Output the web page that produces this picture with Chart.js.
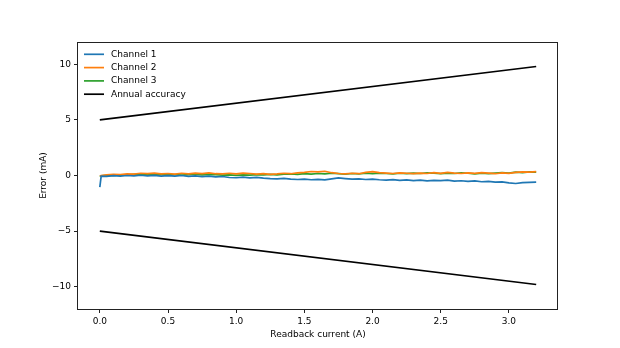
<!DOCTYPE html>
<html>
<head>
<meta charset="utf-8">
<script src="https://cdn.jsdelivr.net/npm/chart.js@4"></script>
<style>
  html, body { margin: 0; padding: 0; background: #fff; }
  #wrap { width: 620px; height: 348px; }
</style>
</head>
<body>
<div id="wrap"><canvas id="errChart"></canvas></div>
<script>
// readback current (A) for every sample
const current = [0, 0.01, 0.05, 0.10, 0.15, 0.20, 0.25, 0.30, 0.35, 0.40, 0.45, 0.50, 0.55, 0.60, 0.65, 0.70, 0.75, 0.80,
  0.85, 0.90, 0.95, 1.00, 1.05, 1.10, 1.15, 1.20, 1.25, 1.30, 1.35, 1.40, 1.45, 1.50, 1.55, 1.60, 1.65, 1.70, 1.75,
  1.80, 1.85, 1.90, 1.95, 2.00, 2.05, 2.10, 2.15, 2.20, 2.25, 2.30, 2.35, 2.40, 2.45, 2.50, 2.55, 2.60, 2.65, 2.70,
  2.75, 2.80, 2.85, 2.90, 2.95, 3.00, 3.05, 3.10, 3.15, 3.20];

// error (mA) per channel
const channel1 = [-1.05, -0.05, -0.08, -0.02, -0.06, 0.00, -0.04, 0.02, -0.03, 0.01, -0.05, -0.02, -0.06, 0.00, -0.08,
  -0.03, -0.10, -0.06, -0.12, -0.09, -0.18, -0.20, -0.15, -0.22, -0.17, -0.24, -0.28, -0.30, -0.26, -0.33, -0.36,
  -0.32, -0.38, -0.35, -0.40, -0.30, -0.22, -0.28, -0.33, -0.30, -0.36, -0.32, -0.38, -0.42, -0.37, -0.44, -0.40,
  -0.46, -0.42, -0.48, -0.44, -0.46, -0.42, -0.50, -0.47, -0.53, -0.49, -0.56, -0.52, -0.60, -0.57, -0.66, -0.72,
  -0.64, -0.62, -0.60];
const channel2 = [-0.05, 0.00, 0.05, 0.10, 0.08, 0.15, 0.12, 0.20, 0.16, 0.22, 0.14, 0.18, 0.12, 0.20, 0.15, 0.22,
  0.17, 0.24, 0.16, 0.14, 0.20, 0.15, 0.22, 0.18, 0.12, 0.16, 0.10, 0.14, 0.20, 0.16, 0.24, 0.28, 0.36, 0.32, 0.38,
  0.25, 0.18, 0.14, 0.20, 0.16, 0.28, 0.34, 0.26, 0.22, 0.18, 0.24, 0.20, 0.16, 0.22, 0.18, 0.25, 0.20, 0.28, 0.22,
  0.18, 0.24, 0.20, 0.26, 0.22, 0.16, 0.24, 0.20, 0.28, 0.32, 0.30, 0.34];
const channel3 = [-0.10, -0.02, 0.02, 0.00, 0.06, 0.04, 0.10, 0.08, 0.12, 0.06, 0.10, 0.05, 0.09, 0.04, 0.08, 0.12,
  0.06, 0.10, 0.07, 0.03, 0.05, 0.02, 0.06, 0.04, 0.08, 0.05, 0.10, 0.06, 0.12, 0.14, 0.10, 0.16, 0.12, 0.18, 0.14,
  0.20, 0.16, 0.12, 0.18, 0.15, 0.20, 0.17, 0.22, 0.18, 0.14, 0.20, 0.16, 0.22, 0.18, 0.24, 0.20, 0.16, 0.22, 0.18,
  0.24, 0.20, 0.14, 0.20, 0.16, 0.22, 0.26, 0.22, 0.30, 0.26, 0.32, 0.30];

// annual accuracy limits (mA), given at the ends of the range
const accuracyCurrent = [0, 3.2];
const accuracyUpper = [5, 9.8];
const accuracyLower = [-5, -9.8];

const xTicks = [0, 0.5, 1, 1.5, 2, 2.5, 3];
const yTicks = [-10, -5, 0, 5, 10];

const toPoints = (xs, ys) => xs.map((x, i) => ({ x: x, y: ys[i] }));

const font = { family: 'DejaVu Sans', size: 9 };

// box around the plot area, like a matplotlib frame
const frame = {
  id: 'frame',
  afterDraw(chart) {
    const a = chart.chartArea;
    const ctx = chart.ctx;
    ctx.save();
    ctx.strokeStyle = '#222';
    ctx.lineWidth = 1;
    ctx.strokeRect(Math.round(a.left) - 0.5, Math.round(a.top) + 0.5,
      Math.round(a.right - a.left), Math.round(a.bottom - a.top));
    ctx.restore();
  }
};

// legend in the upper left corner of the plot, one row per labelled series
const insideLegend = {
  id: 'insideLegend',
  afterDraw(chart) {
    const a = chart.chartArea;
    const ctx = chart.ctx;
    ctx.save();
    ctx.font = '9px "DejaVu Sans"';
    ctx.textBaseline = 'middle';
    ctx.fillStyle = '#000';
    let y = a.top + 12.3;
    chart.data.datasets.filter(d => !d.hideInLegend).forEach(d => {
      ctx.strokeStyle = d.borderColor;
      ctx.lineWidth = 1.7;
      ctx.beginPath();
      ctx.moveTo(a.left + 6, y);
      ctx.lineTo(a.left + 26, y);
      ctx.stroke();
      ctx.fillText(d.label, a.left + 33, y);
      y += 13.3;
    });
    ctx.restore();
  }
};

const line = (label, data, color) => ({
  label: label, data: data, borderColor: color, backgroundColor: color,
  borderWidth: 1.7, pointRadius: 0, fill: false, tension: 0
});

const lowerLimit = line('Annual accuracy', toPoints(accuracyCurrent, accuracyLower), '#000');
lowerLimit.hideInLegend = true;

new Chart(document.getElementById('errChart'), {
  type: 'line',
  data: {
    datasets: [
      line('Channel 1', toPoints(current, channel1), '#1f77b4'),
      line('Channel 2', toPoints(current, channel2), '#ff7f0e'),
      line('Channel 3', toPoints(current, channel3), '#2ca02c'),
      line('Annual accuracy', toPoints(accuracyCurrent, accuracyUpper), '#000'),
      lowerLimit
    ]
  },
  options: {
    responsive: true,
    maintainAspectRatio: false,
    animation: false,
    layout: { padding: { left: 0, top: 42, right: 62, bottom: 0 } },
    plugins: {
      tooltip: { enabled: false },
      legend: { display: false }
    },
    scales: {
      x: {
        type: 'linear',
        min: -0.16,
        max: 3.36,
        afterFit: s => { s.height = 39; },
        afterBuildTicks: s => { s.ticks = xTicks.map(v => ({ value: v })); },
        ticks: { font: font, color: '#000', padding: 3, callback: v => v.toFixed(1) },
        grid: { drawOnChartArea: false, tickLength: 4, tickColor: '#222' },
        border: { display: false },
        title: { display: true, text: 'Readback current (A)', font: font, color: '#000', padding: { top: 0, bottom: 8 } }
      },
      y: {
        min: -12,
        max: 12,
        afterFit: s => { s.width = 78; },
        afterBuildTicks: s => { s.ticks = yTicks.map(v => ({ value: v })); },
        ticks: { font: font, color: '#000', padding: 3, callback: v => String(v).replace('-', '\u2212') },
        grid: { drawOnChartArea: false, tickLength: 4, tickColor: '#222' },
        border: { display: false },
        title: { display: true, text: 'Error (mA)', font: font, color: '#000', padding: { top: 38, bottom: 0 } }
      }
    }
  },
  plugins: [frame, insideLegend]
});
</script>
</body>
</html>
